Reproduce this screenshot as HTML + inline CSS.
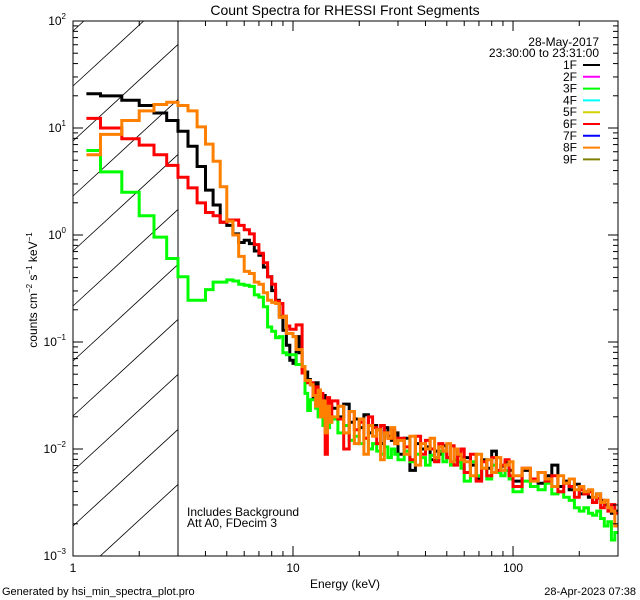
<!DOCTYPE html>
<html><head><meta charset="utf-8"><style>
body{margin:0;background:#fff;}
svg{display:block;font-family:"Liberation Sans",sans-serif;}
</style></head><body>
<svg id="chart" width="640" height="600" viewBox="0 0 640 600">
<defs><clipPath id="plotclip"><rect x="73" y="21" width="545" height="535"/></clipPath>
<clipPath id="hatchclip"><rect x="73" y="21" width="105" height="535"/></clipPath></defs>
<text x="345" y="15" font-size="14" text-anchor="middle">Count Spectra for RHESSI Front Segments</text>
<text x="345" y="588" font-size="12" text-anchor="middle">Energy (keV)</text>
<text transform="translate(37,290) rotate(-90)" font-size="12" text-anchor="middle">counts cm<tspan dy="-5" font-size="8">−2</tspan><tspan dy="5"> s</tspan><tspan dy="-5" font-size="8">−1</tspan><tspan dy="5"> keV</tspan><tspan dy="-5" font-size="8">−1</tspan></text>
<text x="2" y="595" font-size="11">Generated by hsi_min_spectra_plot.pro</text>
<text x="636" y="595" font-size="11" text-anchor="end">28-Apr-2023 07:38</text>
<text x="187" y="516" font-size="12">Includes Background</text>
<text x="187" y="527" font-size="12">Att A0, FDecim 3</text>
<g id="hatch" clip-path="url(#hatchclip)"></g>
<line x1="178" y1="21" x2="178" y2="556" stroke="#000" stroke-width="1"/>
<g id="series" clip-path="url(#plotclip)"></g>
<rect x="73" y="21" width="545" height="535" fill="none" stroke="#000" stroke-width="1"/>
<g id="axes"></g>
<g id="legend">
<text x="599" y="46" font-size="12" text-anchor="end">28-May-2017</text>
<text x="599" y="57" font-size="12" text-anchor="end">23:30:00 to 23:31:00</text>
</g>
</svg>
<script>
var segLabels=["1F","2F","3F","4F","5F","6F","7F","8F","9F"];
var segColors=["#000000","#ff00ff","#00ff00","#00ffff","#d2d200","#ff0000","#0000ff","#ff8000","#808000"];
var lowEdgeStart=1.15;
// log10 counts per bin: 42 bins of 1/3 keV (1-15 keV), then 15 x 1keV, 15 x 2keV, 10 x 4keV, 20 x 10keV
var black1F=[1.32,1.30,1.26,1.21,1.14,1.07,0.97,0.83,0.64,0.42,0.28,0.12,0.09,0.01,-0.07,-0.05,-0.08,-0.15,-0.19,-0.30,-0.39,-0.52,-0.61,-0.76,-0.89,-1.03,-1.17,-1.20,-0.95,-1.10,-1.25,-1.28,-1.35,-1.40,-1.52,-1.38,-1.45,-1.55,-1.50,-1.62,-1.58,-1.60,
-1.62,-1.70,-1.58,-1.75,-1.72,-1.80,-1.68,-1.85,-1.78,-1.82,-1.95,-1.80,-1.88,-1.92,-1.85,
-2.05,-1.90,-2.20,-1.95,-2.00,-1.98,-2.10,-2.02,-2.05,-1.97,-2.08,-2.12,-2.00,-2.06,-2.10,
-2.08,-2.15,-2.28,-2.10,-2.18,-2.02,-2.22,-2.16,-2.12,-2.20,
-2.30,-2.20,-2.28,-2.32,-2.25,-2.15,-2.35,-2.30,-2.38,-2.33,-2.42,-2.40,-2.45,-2.50,-2.42,-2.48,-2.52,-2.55,-2.60,-2.58];
var green3F=[0.79,0.59,0.40,0.18,-0.02,-0.22,-0.39,-0.61,-0.61,-0.51,-0.44,-0.44,-0.42,-0.43,-0.46,-0.47,-0.48,-0.56,-0.58,-0.67,-0.86,-0.90,-0.96,
-0.95,-1.10,-1.12,-1.12,-1.12,-1.21,-1.21,-1.23,-1.48,-1.64,-1.54,-1.54,-1.62,-1.70,-1.65,-1.78,-1.72,-1.80,-1.75,
-1.72,-1.85,-1.78,-1.92,-1.88,-1.95,-1.90,-2.00,-1.95,-2.02,-2.05,-1.98,-2.08,-2.00,-2.05,
-2.10,-2.02,-2.12,-2.05,-2.08,-2.15,-2.06,-2.10,-2.02,-2.12,-2.08,-2.15,-2.10,-2.12,-2.18,
-2.30,-2.12,-2.25,-2.18,-2.28,-2.15,-2.22,-2.25,-2.20,-2.28,
-2.40,-2.30,-2.35,-2.38,-2.32,-2.42,-2.40,-2.45,-2.48,-2.55,-2.58,-2.55,-2.60,-2.62,-2.58,-2.65,-2.72,-2.68,-2.85,-2.78];
var red6F=[1.09,1.00,0.90,0.84,0.75,0.65,0.54,0.44,0.30,0.21,0.18,0.12,0.14,0.14,0.09,0.05,0.01,-0.09,-0.17,-0.26,-0.39,-0.46,-0.62,
-0.64,-0.76,-0.85,-0.88,-0.88,-0.84,-0.84,-1.29,-1.36,-1.38,-1.38,-1.50,-1.42,-1.55,-1.48,-1.60,-2.05,-1.52,-1.70,
-1.55,-1.72,-2.00,-1.65,-1.82,-1.75,-1.90,-1.70,-1.80,-1.95,-1.78,-1.85,-1.90,-1.82,-1.95,
-1.90,-1.98,-2.10,-1.88,-2.05,-1.92,-2.00,-2.12,-1.95,-2.02,-2.08,-1.97,-2.15,-2.05,-2.00,
-2.22,-2.05,-2.30,-2.12,-2.25,-2.08,-2.20,-2.15,-2.10,-2.25,
-2.35,-2.18,-2.28,-2.22,-2.30,-2.25,-2.40,-2.32,-2.35,-2.45,-2.38,-2.42,-2.40,-2.50,-2.46,-2.55,-2.48,-2.58,-2.52,-2.60];
var orange8F=[0.75,0.94,1.07,1.16,1.22,1.24,1.21,1.16,1.01,0.85,0.69,0.45,0.13,0.00,-0.20,-0.34,-0.36,-0.44,-0.46,-0.54,-0.61,-0.63,-0.64,-0.77,
-0.76,-0.92,-0.92,-0.95,-1.07,-1.07,-1.23,-1.36,-1.36,-1.40,-1.50,-1.60,-1.45,-1.70,-1.55,-1.85,-1.60,-1.75,
-1.70,-1.60,-1.85,-1.65,-1.95,-1.72,-2.05,-1.78,-1.88,-1.82,-2.10,-1.85,-1.90,-1.80,-1.95,
-1.92,-2.05,-1.88,-2.15,-1.95,-2.00,-1.90,-2.08,-1.98,-2.02,-1.95,-2.12,-2.00,-2.05,-2.10,
-2.12,-2.25,-2.05,-2.18,-2.10,-2.22,-2.08,-2.20,-2.15,-2.12,
-2.25,-2.18,-2.30,-2.22,-2.28,-2.35,-2.25,-2.32,-2.28,-2.38,-2.35,-2.40,-2.38,-2.45,-2.42,-2.50,-2.48,-2.55,-2.58,-2.72];
var xTickValues=[1,10,100];
var xTickLabels=["1","10","100"];
var yTickExps=[-3,-2,-1,0,1,2];

// bin edges (instrument binning)
var edges=[lowEdgeStart];
(function(){var e;for(var i=1;i<=42;i++)edges.push(1+i/3);
for(e=16;e<=30;e++)edges.push(e);for(e=32;e<=60;e+=2)edges.push(e);
for(e=64;e<=100;e+=4)edges.push(e);for(e=110;e<=300;e+=10)edges.push(e);})();

var X0=73,X1=618,Y0=556,Y1=21,XMIN=0,XMAX=Math.log10(300),YMIN=-3,YMAX=2;
function xs(E){return X0+(Math.log10(E)-XMIN)/(XMAX-XMIN)*(X1-X0);}
function ys(l){return Y0-(l-YMIN)/(YMAX-YMIN)*(Y0-Y1);}
var NS="http://www.w3.org/2000/svg";
function mk(t,a,p){var el=document.createElementNS(NS,t);for(var k in a)el.setAttribute(k,a[k]);p.appendChild(el);return el;}

// hatch
var hg=document.getElementById('hatch');
for(var k=-4;k<10;k++){var yi=86+55*k;
var ln=mk('line',{x1:73,y1:yi,x2:178,y2:yi-105*0.92,stroke:'#000','stroke-width':0.8},hg);

}

// series
var sg=document.getElementById('series');
var seriesList=[[black1F,"#000000","series-1f"],[green3F,"#00ff00","series-3f"],[red6F,"#ff0000","series-6f"],[orange8F,"#ff8000","series-8f"]];
seriesList.forEach(function(s){
var v=s[0],d="";
var n=Math.min(v.length,edges.length-1);
for(var i=0;i<n;i++){var xa=xs(edges[i]).toFixed(1),xb=xs(edges[i+1]).toFixed(1),y=ys(v[i]).toFixed(1);
d+=(i===0?"M":"L")+xa+" "+y+"L"+xb+" "+y;}
var p=mk('path',{d:d,fill:'none',stroke:s[1],'stroke-width':3,'stroke-linejoin':'miter'},sg);


});

// axes ticks
var ag=document.getElementById('axes');
for(var dd=0;dd<3;dd++){for(var m=1;m<10;m++){var E=Math.pow(10,dd)*m;if(E>300)break;
var x=xs(E),L=(m===1)?10:5;
var t1=mk('line',{x1:x,y1:Y0,x2:x,y2:Y0-L,stroke:'#000'},ag);


var t2=mk('line',{x1:x,y1:Y1,x2:x,y2:Y1+L,stroke:'#000'},ag);

}}
xTickValues.forEach(function(v,i){
var t=mk('text',{x:xs(v),y:572,'font-size':12,'text-anchor':'middle'},ag);t.textContent=xTickLabels[i];

});
yTickExps.forEach(function(ex){
for(var m=1;m<10;m++){if(ex===2&&m>1)break;var l=ex+Math.log10(m),y=ys(l),L=(m===1)?10:5;
var a=mk('line',{x1:X0,y1:y,x2:X0+L,y2:y,stroke:'#000'},ag);


var b=mk('line',{x1:X1,y1:y,x2:X1-L,y2:y,stroke:'#000'},ag);

}
var t=mk('text',{x:66,y:ys(ex)+4,'font-size':12,'text-anchor':'end'},ag);
t.innerHTML='10<tspan dy="-6" font-size="8">'+(ex<0?'−'+(-ex):ex)+'</tspan>';

});

// legend
var lg=document.getElementById('legend');
segLabels.forEach(function(lab,i){var y=69+11.8*i;
var t=mk('text',{x:577,y:y,'font-size':12,'text-anchor':'end'},lg);t.textContent=lab;


var l=mk('line',{x1:583,y1:y-4,x2:600,y2:y-4,stroke:segColors[i],'stroke-width':2},lg);

});
</script>
</body></html>
